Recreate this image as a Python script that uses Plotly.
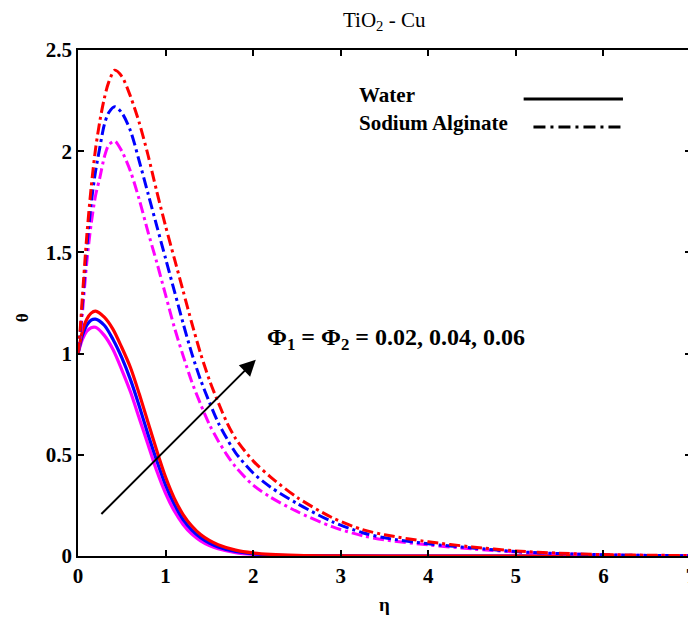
import plotly.graph_objects as go

# η grid and θ values for the water-based curves (solid)
eta_w = [0, 0.05, 0.1, 0.15, 0.2, 0.3, 0.4, 0.5, 0.6, 0.7, 0.8, 0.9, 1.0,
         1.1, 1.2, 1.3, 1.4, 1.5, 1.6, 1.8, 2.0, 2.2, 2.5, 3.0, 4.0, 5.0, 6.0, 7.0]
water_002 = [1.0, 1.07, 1.11, 1.128, 1.13, 1.09, 1.02, 0.92, 0.81, 0.68, 0.55, 0.42, 0.31,
             0.222, 0.156, 0.108, 0.075, 0.052, 0.036, 0.017, 0.008, 0.0035, 0.001, 0.0, 0.0, 0.0, 0.0, 0.0]
water_004 = [1.0, 1.09, 1.14, 1.165, 1.17, 1.14, 1.07, 0.98, 0.87, 0.74, 0.60, 0.47, 0.35,
             0.255, 0.18, 0.128, 0.09, 0.064, 0.045, 0.022, 0.011, 0.005, 0.0017, 0.0003, 0.0, 0.0, 0.0, 0.0]
water_006 = [1.0, 1.11, 1.17, 1.20, 1.21, 1.18, 1.12, 1.03, 0.93, 0.80, 0.66, 0.52, 0.39,
             0.285, 0.205, 0.148, 0.106, 0.077, 0.056, 0.029, 0.015, 0.008, 0.003, 0.0005, 0.0, 0.0, 0.0, 0.0]

# η grid and θ values for the sodium alginate curves (dash-dot)
eta_s = [0, 0.025, 0.05, 0.1, 0.15, 0.2, 0.25, 0.3, 0.35, 0.42, 0.5, 0.6, 0.7, 0.8, 0.9,
         1.0, 1.1, 1.2, 1.3, 1.4, 1.5, 1.6, 1.7, 1.8, 2.0, 2.2, 2.5, 2.9, 3.25, 3.5, 4.0,
         4.5, 5.0, 5.5, 6.0, 6.5, 7.0]
sodium_002 = [1.0, 1.08, 1.20, 1.45, 1.64, 1.78, 1.87, 1.97, 2.03, 2.05, 2.00, 1.90, 1.76, 1.60, 1.45,
              1.29, 1.13, 0.99, 0.86, 0.75, 0.65, 0.57, 0.50, 0.44, 0.35, 0.29, 0.22, 0.145, 0.10, 0.08,
              0.055, 0.035, 0.02, 0.011, 0.006, 0.003, 0.0015]
sodium_004 = [1.0, 1.10, 1.24, 1.52, 1.74, 1.90, 2.02, 2.13, 2.19, 2.22, 2.19, 2.10, 1.95, 1.79, 1.63,
              1.47, 1.31, 1.15, 1.00, 0.87, 0.76, 0.66, 0.58, 0.51, 0.41, 0.34, 0.26, 0.17, 0.115, 0.09,
              0.06, 0.04, 0.022, 0.012, 0.006, 0.003, 0.0015]
sodium_006 = [1.0, 1.12, 1.28, 1.58, 1.82, 2.01, 2.15, 2.26, 2.34, 2.40, 2.37, 2.27, 2.14, 1.98, 1.80,
              1.63, 1.47, 1.31, 1.15, 1.00, 0.87, 0.76, 0.66, 0.58, 0.47, 0.39, 0.29, 0.19, 0.13, 0.105,
              0.07, 0.045, 0.025, 0.014, 0.007, 0.004, 0.002]

x_ticks = [0, 1, 2, 3, 4, 5, 6, 7]
y_ticks = [0, 0.5, 1, 1.5, 2, 2.5]
y_tick_labels = ["0", "0.5", "1", "1.5", "2", "2.5"]

COLORS = {"0.02": "#ff00ff", "0.04": "#0000ff", "0.06": "#ff0000"}
FONT = "Liberation Serif, Times New Roman, serif"
DASHDOT = "11px,4px,3px,4px"

fig = go.Figure()

# ── Water (solid) ───────────────────────────────────────────────────────
for key, vals in [("0.02", water_002), ("0.04", water_004), ("0.06", water_006)]:
    fig.add_trace(go.Scatter(
        x=eta_w, y=vals, mode="lines", line_shape="spline",
        line=dict(color=COLORS[key], width=3.2, smoothing=0.8),
        showlegend=False,
    ))

# ── Sodium alginate (dash-dot) ───────────────────────────────────────────
for key, vals in [("0.02", sodium_002), ("0.04", sodium_004), ("0.06", sodium_006)]:
    fig.add_trace(go.Scatter(
        x=eta_s, y=vals, mode="lines", line_shape="spline",
        line=dict(color=COLORS[key], width=3, dash=DASHDOT, smoothing=0.8),
        showlegend=False,
    ))

# ── Hand-made legend (text left, line sample right) ───────────────────────
legend_font = dict(family=FONT, size=21, color="black")
annotations = [
    dict(text="<b>Water</b>", x=0.455, y=0.911, xref="paper", yref="paper",
         xanchor="left", yanchor="middle", showarrow=False, font=legend_font),
    dict(text="<b>Sodium Alginate</b>", x=0.455, y=0.856, xref="paper", yref="paper",
         xanchor="left", yanchor="middle", showarrow=False, font=legend_font),
    # arrow showing increasing volume fraction
    dict(x=2.03, y=0.97, ax=0.25, ay=0.20, xref="x", yref="y", axref="x", ayref="y",
         showarrow=True, arrowhead=2, arrowsize=1.6, arrowwidth=2, arrowcolor="black", text=""),
    dict(text="<b>Φ<sub>1</sub> = Φ<sub>2</sub> = 0.02, 0.04, 0.06</b>", x=2.13, y=1.07,
         xref="x", yref="y", xanchor="left", yanchor="middle", showarrow=False,
         font=dict(family=FONT, size=24, color="black")),
    # title and axis titles
    dict(text="TiO<sub>2</sub> - Cu", x=0.5, y=1.0, xref="paper", yref="paper",
         xanchor="center", yanchor="bottom", yshift=14, showarrow=False,
         font=dict(family=FONT, size=21, color="black")),
    dict(text="<b>η</b>", x=0.5, y=0, xref="paper", yref="paper", xanchor="center",
         yanchor="middle", yshift=-48, showarrow=False,
         font=dict(family=FONT, size=19, color="black")),
    dict(text="<b>θ</b>", x=0, y=0.47, xref="paper", yref="paper", xanchor="center",
         yanchor="middle", xshift=-56, textangle=-90, showarrow=False,
         font=dict(family=FONT, size=17, color="black")),
]

shapes = [
    dict(type="line", xref="paper", yref="paper", x0=0.727, x1=0.889, y0=0.903, y1=0.903,
         line=dict(color="black", width=3)),
    dict(type="line", xref="paper", yref="paper", x0=0.743, x1=0.889, y0=0.848, y1=0.848,
         line=dict(color="black", width=3, dash="12px,5px,3px,5px")),
]

axis_common = dict(
    showgrid=False, zeroline=False, showline=True, linecolor="black", linewidth=1.5,
    mirror="allticks", ticks="inside", ticklen=6, tickwidth=1.5, tickcolor="black",
    tickfont=dict(family=FONT, size=21, color="black"), ticklabeloverflow="allow",
)

# the page has an 8px body margin, so the figure is sized to fit the window
fig.update_layout(
    width=688, height=610,
    paper_bgcolor="white", plot_bgcolor="white",
    margin=dict(l=70, r=0, t=42, b=62),
    font=dict(family=FONT, color="black"),
    showlegend=False,
    annotations=annotations,
    shapes=shapes,
    xaxis=dict(range=[0, 7], tickvals=x_ticks, ticktext=[f"<b>{t}</b>" for t in x_ticks],
               **axis_common),
    yaxis=dict(range=[0, 2.5], tickvals=y_ticks, ticktext=[f"<b>{t}</b>" for t in y_tick_labels],
               **axis_common),
)

fig.write_html("out.html")
